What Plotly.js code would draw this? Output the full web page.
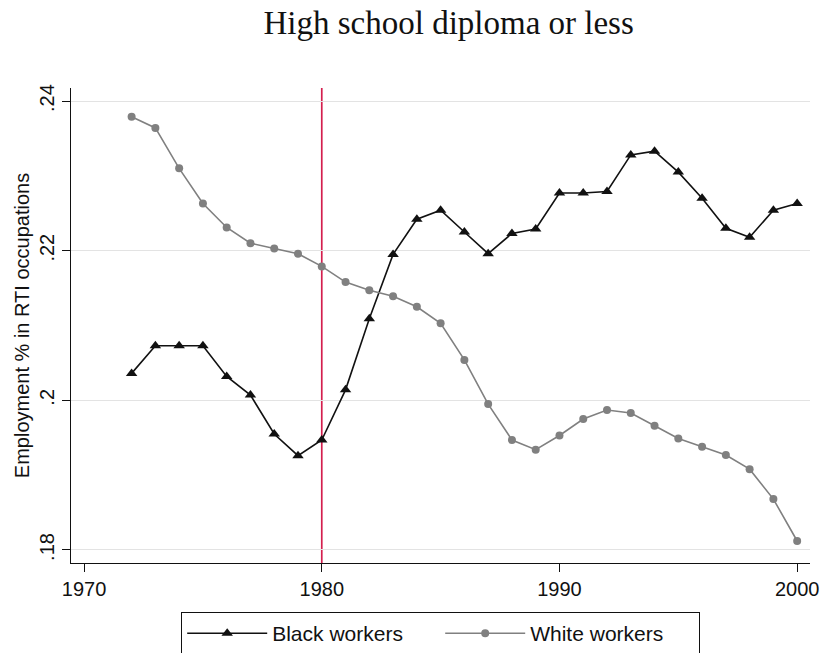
<!DOCTYPE html>
<html>
<head>
<meta charset="utf-8">
<script src="https://cdn.plot.ly/plotly-3.0.1.min.js"></script>
<style>
  html, body { margin: 0; padding: 0; background: #fff; }
  #chart { width: 823px; height: 653px; }
</style>
</head>
<body>
<div id="chart"></div>
<script>
// Years shared by both series.
const years = [1972, 1973, 1974, 1975, 1976, 1977, 1978, 1979, 1980, 1981,
  1982, 1983, 1984, 1985, 1986, 1987, 1988, 1989, 1990, 1991,
  1992, 1993, 1994, 1995, 1996, 1997, 1998, 1999, 2000];

// Share of employment in routine-task-intensive occupations.
const blackWorkers = [0.2036, 0.2073, 0.2073, 0.2073, 0.2032, 0.2007, 0.1955, 0.1926, 0.1947, 0.2014,
  0.2109, 0.2195, 0.2242, 0.2254, 0.2225, 0.2196, 0.2223, 0.2229, 0.2277, 0.2277,
  0.2279, 0.2328, 0.2333, 0.2305, 0.2270, 0.2230, 0.2218, 0.2254, 0.2263];

const whiteWorkers = [0.2379, 0.2364, 0.2310, 0.2263, 0.2231, 0.2210, 0.2203, 0.2196, 0.2179, 0.2158,
  0.2147, 0.2139, 0.2125, 0.2103, 0.2054, 0.1995, 0.1947, 0.1934, 0.1953, 0.1975,
  0.1987, 0.1983, 0.1966, 0.1949, 0.1938, 0.1927, 0.1908, 0.1868, 0.1812];

const xTicks = [1970, 1980, 1990, 2000];
const yTicks = [0.18, 0.20, 0.22, 0.24];
const yTickText = [".18", ".2", ".22", ".24"];
const cutoffYear = 1980;

const SANS = "Liberation Sans, Arial, sans-serif";

const data = [
  {
    type: "scatter", mode: "lines+markers", name: "Black workers",
    x: years, y: blackWorkers,
    line: { color: "#111111", width: 1.6 },
    marker: { symbol: "triangle-up", size: 10, color: "#111111" },
  },
  {
    type: "scatter", mode: "lines+markers", name: "White workers",
    x: years, y: whiteWorkers,
    line: { color: "#808080", width: 1.6 },
    marker: { symbol: "circle", size: 8, color: "#808080" },
  },
];

const layout = {
  width: 823, height: 653,
  paper_bgcolor: "#ffffff", plot_bgcolor: "#ffffff",
  font: { family: SANS, color: "#111111", size: 20 },
  margin: { l: 71, r: 13, t: 88, b: 90, autoexpand: false },
  showlegend: true,
  title: {
    text: "High school diploma or less",
    font: { family: "Liberation Serif, DejaVu Serif, serif", size: 33, color: "#111111" },
    x: 0.511, xref: "paper", xanchor: "center",
    y: 0.966, yref: "container", yanchor: "middle",
  },
  xaxis: {
    range: [1969.45, 2000.54],
    tickvals: xTicks,
    ticks: "outside", ticklen: 8, tickwidth: 1.2, tickcolor: "#111111",
    showline: true, linecolor: "#111111", linewidth: 1.3,
    showgrid: false, zeroline: false,
    tickfont: { family: SANS, size: 20, color: "#111111" },
  },
  yaxis: {
    range: [0.17826, 0.24174],
    tickvals: yTicks, ticktext: yTickText, tickangle: -90,
    ticks: "outside", ticklen: 8, tickwidth: 1.2, tickcolor: "#111111",
    showline: true, linecolor: "#111111", linewidth: 1.3,
    showgrid: true, gridcolor: "#e3e3e3", gridwidth: 1.3,
    zeroline: false,
    tickfont: { family: SANS, size: 20, color: "#111111" },
    title: { text: "Employment % in RTI occupations", standoff: 0,
             font: { family: SANS, size: 20, color: "#111111" } },
  },
  shapes: [
    {
      type: "line", layer: "below",
      xref: "x", yref: "paper",
      x0: cutoffYear, x1: cutoffYear, y0: 0, y1: 1,
      line: { color: "#d41f4e", width: 1.7 },
    },
  ],
  legend: {
    orientation: "h",
    x: 0.5, xanchor: "center",
    y: -0.103, yanchor: "top",
    bordercolor: "#111111", borderwidth: 1.2,
    bgcolor: "#ffffff",
    itemwidth: 80,
    entrywidth: 163, entrywidthmode: "pixels",
    font: { family: SANS, size: 21, color: "#111111" },
  },
};

Plotly.newPlot("chart", data, layout, { displayModeBar: false, responsive: false });
</script>
</body>
</html>
